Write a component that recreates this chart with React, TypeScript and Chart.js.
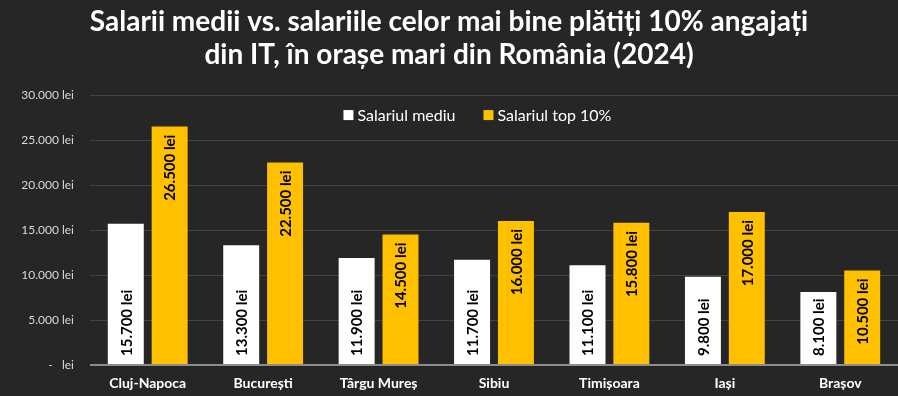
import React, { useEffect, useRef } from "react";
import { Chart, registerables } from "chart.js";

Chart.register(...registerables);

const titleLines = [
  "Salarii medii vs. salariile celor mai bine plătiți 10% angajați",
  "din IT, în orașe mari din România (2024)",
];
const cities = ["Cluj-Napoca", "București", "Târgu Mureș", "Sibiu", "Timișoara", "Iași", "Brașov"];
const avgSalary = [15700, 13300, 11900, 11700, 11100, 9800, 8100];
const topSalary = [26500, 22500, 14500, 16000, 15800, 17000, 10500];
const seriesNames = ["Salariul mediu", "Salariul top 10%"];
const seriesColors = ["#FFFFFF", "#FFC000"];
const yTicks = [0, 5000, 10000, 15000, 20000, 25000, 30000];

const FONT = "Lato, 'Noto Sans', sans-serif";

function fmt(v: number): string {
  return String(Math.round(v)).replace(/\B(?=(\d{3})+(?!\d))/g, ".");
}

const labelPlugin = {
  id: "barLabels",
  afterDatasetsDraw(chart: any) {
    const ctx = chart.ctx;
    chart.data.datasets.forEach((ds: any, di: number) => {
      const meta = chart.getDatasetMeta(di);
      meta.data.forEach((bar: any, i: number) => {
        const text = fmt(ds.data[i]) + " lei";
        ctx.save();
        ctx.font = `bold 15px ${FONT}`;
        ctx.fillStyle = "#000000";
        ctx.textBaseline = "middle";
        if (di === 0) {
          ctx.translate(bar.x, bar.base - 8);
          ctx.rotate(-Math.PI / 2);
          ctx.textAlign = "left";
        } else {
          ctx.translate(bar.x, bar.y + 8);
          ctx.rotate(-Math.PI / 2);
          ctx.textAlign = "right";
        }
        ctx.fillText(text, 0, 1);
        ctx.restore();
      });
    });
  },
};

const legendPlugin = {
  id: "innerLegend",
  afterDraw(chart: any) {
    const ctx = chart.ctx;
    const area = chart.chartArea;
    ctx.save();
    ctx.font = `16px ${FONT}`;
    ctx.textBaseline = "middle";
    ctx.textAlign = "left";
    const box = 10;
    const gapBox = 4;
    const gapItem = 28;
    const widths = chart.data.datasets.map((d: any) => ctx.measureText(d.label).width);
    let total = 0;
    widths.forEach((w: number, i: number) => {
      total += box + gapBox + w + (i < widths.length - 1 ? gapItem : 0);
    });
    const cx = area.left + area.width * 0.4795;
    let x = cx - total / 2;
    const y = area.top + 20;
    chart.data.datasets.forEach((d: any, i: number) => {
      ctx.fillStyle = d.backgroundColor;
      ctx.fillRect(x, y - box / 2, box, box);
      ctx.fillStyle = "#FFFFFF";
      ctx.fillText(d.label, x + box + gapBox, y + 1);
      x += box + gapBox + widths[i] + gapItem;
    });
    ctx.restore();
  },
};

const bgPlugin = {
  id: "bg",
  beforeDraw(chart: any) {
    const ctx = chart.ctx;
    ctx.save();
    ctx.fillStyle = "#262626";
    ctx.fillRect(0, 0, chart.width, chart.height);
    ctx.restore();
  },
};

export default function App() {
  const ref = useRef<HTMLCanvasElement>(null);
  useEffect(() => {
    document.body.style.margin = "0";
    document.body.style.background = "#262626";
    const chart = new Chart(ref.current!, {
      type: "bar",
      data: {
        labels: cities,
        datasets: [
          {
            label: seriesNames[0],
            data: avgSalary,
            backgroundColor: seriesColors[0],
            categoryPercentage: 0.76,
            barPercentage: 0.82,
          },
          {
            label: seriesNames[1],
            data: topSalary,
            backgroundColor: seriesColors[1],
            categoryPercentage: 0.76,
            barPercentage: 0.82,
          },
        ],
      },
      options: {
        responsive: false,
        animation: false,
        maintainAspectRatio: false,
        layout: { padding: { left: 0, right: 0, top: 0, bottom: 0 } },
        plugins: {
          title: {
            display: true,
            text: titleLines,
            color: "#FFFFFF",
            font: { family: FONT, size: 28, weight: "bold", lineHeight: 1.18 },
            padding: { top: 5, bottom: 24 },
          },
          legend: { display: false },
          tooltip: { enabled: false },
        },
        scales: {
          x: {
            grid: { display: false, drawTicks: false },
            border: { display: false },
            afterFit(scale: any) {
              scale.height = 31;
            },
            ticks: {
              color: "#FFFFFF",
              font: { family: FONT, size: 14, weight: "bold" },
              padding: 10,
            },
          },
          y: {
            min: 0,
            max: 30000,
            afterBuildTicks(scale: any) {
              scale.ticks = yTicks.map((v) => ({ value: v }));
            },
            afterFit(scale: any) {
              scale.width = 90;
            },
            grid: {
              drawTicks: false,
              color: (c: any) => (c.tick && c.tick.value === 0 ? "#8C8C8C" : "#434343"),
              lineWidth: (c: any) => (c.tick && c.tick.value === 0 ? 2 : 1),
            },
            border: { display: false },
            ticks: {
              color: "#D9D9D9",
              font: { family: FONT, size: 12 },
              padding: 16,
              callback: (v: any) => (v === 0 ? "-   lei" : fmt(v) + " lei"),
            },
          },
        },
      },
      plugins: [bgPlugin, labelPlugin, legendPlugin],
    });
    return () => chart.destroy();
  }, []);
  return (
    <div style={{ width: 898, height: 396, background: "#262626" }}>
      <canvas ref={ref} width={898} height={396} style={{ display: "block" }} />
    </div>
  );
}
